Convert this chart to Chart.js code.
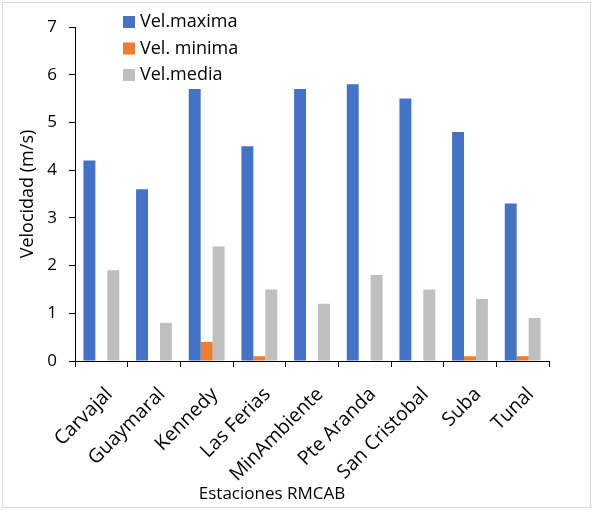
<!DOCTYPE html>
<html>
<head>
<meta charset="utf-8">
<script src="https://cdn.jsdelivr.net/npm/chart.js@4"></script>
<style>
  html, body { margin: 0; padding: 0; background: #fff; }
  #wrap { position: relative; width: 593px; height: 510px; }
  #frame { position: absolute; left: 2px; top: 2px; width: 587px; height: 504px; border: 1px solid #d9d9d9; pointer-events: none; }
</style>
</head>
<body>
<div id="wrap">
  <canvas id="myChart" width="593" height="510"></canvas>
  <div id="frame"></div>
</div>
<script>
var estaciones = ['Carvajal', 'Guaymaral', 'Kennedy', 'Las Ferias', 'MinAmbiente', 'Pte Aranda', 'San Cristobal', 'Suba', 'Tunal'];
var velMaxima = [4.2, 3.6, 5.7, 4.5, 5.7, 5.8, 5.5, 4.8, 3.3];
var velMinima = [0, 0, 0.4, 0.1, 0, 0, 0, 0.1, 0.1];
var velMedia = [1.9, 0.8, 2.4, 1.5, 1.2, 1.8, 1.5, 1.3, 0.9];
var yTicks = [0, 1, 2, 3, 4, 5, 6, 7];
var tituloX = 'Estaciones RMCAB';

var fuente = "'Open Sans', sans-serif";
var ctx = document.getElementById('myChart').getContext('2d');

// leyenda y titulo del eje x dibujados a mano
var leyenda = {
  id: 'leyenda',
  afterDraw: function(chart) {
    var c = chart.ctx;
    c.save();
    c.font = '18px ' + fuente;
    c.textBaseline = 'middle';
    chart.data.datasets.forEach(function(ds, i) {
      var y = 22 + i * 26.5;
      c.fillStyle = ds.backgroundColor;
      c.fillRect(123, y - 6, 12, 12);
      c.fillStyle = '#000';
      c.fillText(ds.label, 140, y);
    });
    c.font = '17px ' + fuente;
    c.textAlign = 'center';
    c.fillText(tituloX, 272, 494);
    c.restore();
  }
};

var myChart = new Chart(ctx, {
  type: 'bar',
  data: {
    labels: estaciones,
    datasets: [{
      label: 'Vel.maxima',
      data: velMaxima,
      backgroundColor: '#4472C4'
    }, {
      label: 'Vel. minima',
      data: velMinima,
      backgroundColor: '#ED7D31'
    }, {
      label: 'Vel.media',
      data: velMedia,
      backgroundColor: '#BFBFBF'
    }]
  },
  options: {
    responsive: false,
    animation: false,
    layout: { padding: { left: 13, top: 27, right: 44, bottom: 6 } },
    datasets: { bar: { categoryPercentage: 0.68, barPercentage: 1 } },
    plugins: {
      legend: { display: false },
      tooltip: { enabled: false }
    },
    scales: {
      x: {
        grid: { drawOnChartArea: false, drawTicks: true, tickLength: 6, color: '#000', offset: true },
        border: { color: '#000', width: 1 },
        ticks: { color: '#000', font: { family: fuente, size: 19.5 }, minRotation: 45, maxRotation: 45, padding: 16, labelOffset: 8 },
        afterFit: function(scale) { scale.height = 510 - 361 - 6; }
      },
      y: {
        min: 0,
        max: 7,
        afterBuildTicks: function(scale) { scale.ticks = yTicks.map(function(v) { return { value: v }; }); },
        grid: { drawOnChartArea: false, drawTicks: true, tickLength: 6, color: '#000' },
        border: { color: '#000', width: 1 },
        ticks: { color: '#000', font: { family: fuente, size: 17 }, padding: 12 },
        title: { display: true, text: 'Velocidad (m/s)', color: '#000', font: { family: fuente, size: 18 } },
        afterFit: function(scale) { scale.width = 75 - 13; }
      }
    }
  },
  plugins: [leyenda]
});
</script>
</body>
</html>
